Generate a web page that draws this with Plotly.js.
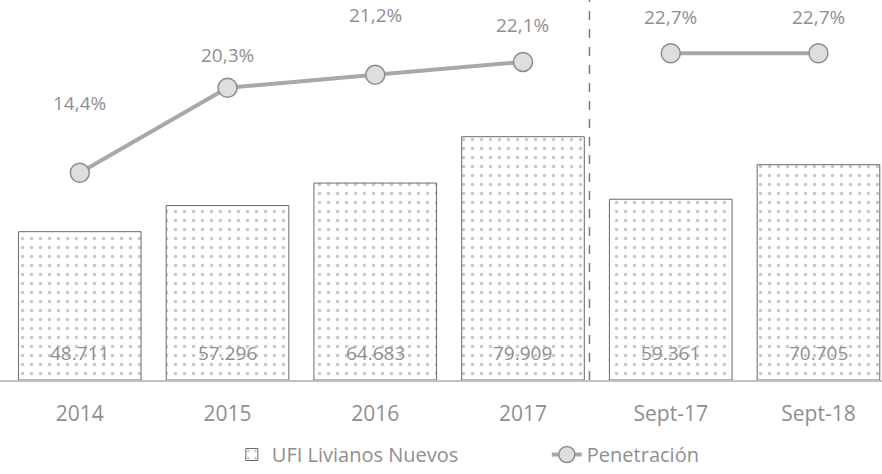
<!DOCTYPE html>
<html>
<head>
<meta charset="utf-8">
<script src="https://cdn.plot.ly/plotly-3.0.1.min.js"></script>
<style>
  html, body { margin: 0; padding: 0; background: #fff; }
  #chart { width: 882px; height: 474px; }
</style>
</head>
<body>
<div id="chart"></div>
<script>
  const categories = ["2014", "2015", "2016", "2017", "Sept-17", "Sept-18"]
  const ufiLivianos = [48711, 57296, 64683, 79909, 59361, 70705]
  const ufiLabels = ["48.711", "57.296", "64.683", "79.909", "59.361", "70.705"]
  const penetracion = [0.144, 0.203, 0.212, 0.221, 0.227, 0.227]
  const penetracionLabels = ["14,4%", "20,3%", "21,2%", "22,1%", "22,7%", "22,7%"]

  // label offsets above the markers, px
  const labelLift = [70, 33, 60, 37, 36, 36]

  const grey = "#8f8f8f"
  const family = "Open Sans, Liberation Sans, sans-serif"

  const lineStyle = {color: "#a8a8a8", width: 4}
  const markerStyle = {size: 19, color: "#dedede", line: {color: "#8c8c8c", width: 1.5}}

  const data = [
    {
      x: categories, y: ufiLivianos, type: "bar", name: "UFI Livianos Nuevos",
      marker: {color: "#ffffff", line: {color: "#6a6a6a", width: 1},
        pattern: {shape: ".", fgcolor: "#c8c8c8", bgcolor: "#ffffff", size: 9, solidity: 0.12}},
      hoverinfo: "x+y"
    },
    {
      x: categories.slice(0, 4), y: penetracion.slice(0, 4), yaxis: "y2",
      type: "scatter", mode: "lines+markers", name: "Penetración",
      line: lineStyle, marker: markerStyle
    },
    {
      x: categories.slice(4), y: penetracion.slice(4), yaxis: "y2",
      type: "scatter", mode: "lines+markers", name: "Penetración", showlegend: false,
      line: lineStyle, marker: markerStyle
    }
  ]

  // category axis: annotations use the index, "2014" would be read as a number
  const pctNotes = categories.map((c, i) => ({
    x: i, y: penetracion[i], xref: "x", yref: "y2",
    text: penetracionLabels[i], showarrow: false,
    yshift: labelLift[i], font: {family, size: 19, color: grey}
  }))
  const barNotes = categories.map((c, i) => ({
    x: i, y: 0, xref: "x", yref: "y", yanchor: "bottom",
    text: ufiLabels[i], showarrow: false,
    yshift: 12, font: {family, size: 19, color: grey}
  }))

  const layout = {
    width: 882, height: 474,
    margin: {l: 0, r: 0, t: 0, b: 94, autoexpand: false},
    paper_bgcolor: "#fff", plot_bgcolor: "#fff",
    font: {family, color: grey, size: 14},
    bargap: 0.17,
    showlegend: true,
    legend: {orientation: "h", yref: "container", x: 0.62, xanchor: "center", y: 0, yanchor: "bottom",
      font: {family, size: 20, color: grey}, itemwidth: 30, entrywidth: 270},
    xaxis: {
      type: "category", range: [-0.54, 5.43], automargin: false,
      showline: true, linecolor: "#c0c0c0", linewidth: 1.5,
      ticks: "", ticklabelstandoff: 14,
      tickfont: {family, size: 21, color: grey},
      showgrid: false, zeroline: false
    },
    yaxis: {range: [0, 124800], visible: false, showgrid: false, zeroline: false},
    yaxis2: {range: [0, 0.264], overlaying: "y", side: "right", visible: false,
      showgrid: false, zeroline: false},
    shapes: [{
      type: "line", xref: "x", yref: "paper", x0: 3.45, x1: 3.45, y0: 0, y1: 1,
      line: {color: "#7a7a7a", width: 1.5, dash: "dash"}
    }],
    annotations: pctNotes.concat(barNotes)
  }

  Plotly.newPlot("chart", data, layout, {displayModeBar: false, staticPlot: true})
</script>
</body>
</html>
